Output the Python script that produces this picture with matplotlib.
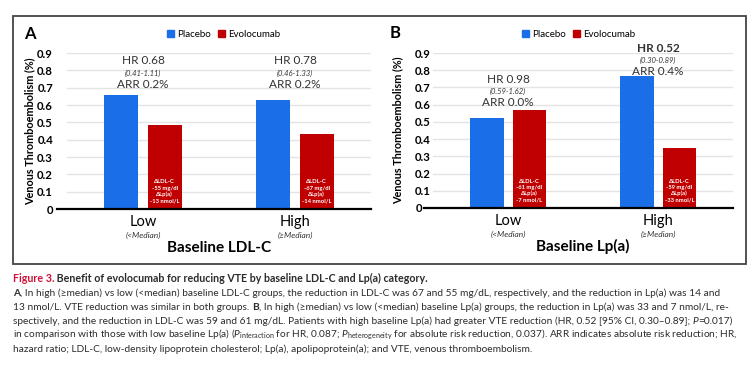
import numpy as np
import matplotlib.pyplot as plt
from matplotlib.patches import Patch, Rectangle
from matplotlib.transforms import ScaledTranslation

plt.rcParams['font.family'] = ['Lato', 'DejaVu Sans']
plt.rcParams['mathtext.fontset'] = 'custom'
plt.rcParams['mathtext.rm'] = 'Lato'
plt.rcParams['mathtext.it'] = 'Lato:italic'

# categories
groups = ['Low', 'High']
group_sub = ['(<Median)', '(\u2265Median)']

# panel A: baseline LDL-C
placebo_ldl = [0.66, 0.63]
evo_ldl = [0.485, 0.43]
hr_ldl = ['HR 0.68', 'HR 0.78']
ci_ldl = ['(0.41-1.11)', '(0.46-1.33)']
arr_ldl = ['ARR 0.2%', 'ARR 0.2%']
dldl_ldl = ['-55 mg/dl', '-67 mg/dl']
dlpa_ldl = ['-13 nmol/L', '-14 nmol/L']

# panel B: baseline Lp(a)
placebo_lpa = [0.52, 0.765]
evo_lpa = [0.57, 0.35]
hr_lpa = ['HR 0.98', 'HR 0.52']
ci_lpa = ['(0.59-1.62)', '(0.30-0.89)']
arr_lpa = ['ARR 0.0%', 'ARR 0.4%']
dldl_lpa = ['-61 mg/dl', '-59 mg/dl']
dlpa_lpa = ['-7 nmol/L', '-33 nmol/L']

BLUE = '#1a6ee8'
RED = '#c00000'
W, H = 750, 369

fig = plt.figure(figsize=(7.5, 3.69), dpi=100)


def px_axes(left, right, top, bottom):
    return fig.add_axes([left / W, 1 - bottom / H, (right - left) / W, (bottom - top) / H])


def draw_panel(ax, placebo, evo, hr, ci, arr, dldl, dlpa, arr_y, xlabel,
               zero_ext, tick_pad, zero_shift, ylab_x, leg_x, hr_bold):
    x = np.arange(len(groups))
    ax.set_xlim(-0.5, 1.5)
    ax.set_ylim(0, 0.9)
    ax.bar(x - 0.142, placebo, 0.224, color=BLUE, zorder=3)
    ax.bar(x + 0.142, evo, 0.224, color=RED, zorder=3)

    ticks = np.round(np.arange(0, 0.95, 0.1), 1)
    ax.set_yticks(ticks)
    ax.set_yticklabels(['0'] + ['%.1f' % t for t in ticks[1:]], fontweight='bold', fontsize=8.2)
    ax.tick_params(axis='y', length=0, pad=tick_pad)
    zl = ax.get_yticklabels()[0]
    zl.set_transform(zl.get_transform() + ScaledTranslation(-zero_shift / 100, 0, fig.dpi_scale_trans))
    ax.set_xticks([])
    ax.yaxis.grid(True, color='#e4e4e4', lw=1)
    ax.set_axisbelow(True)
    for s in ax.spines.values():
        s.set_visible(False)
    ax.axhline(0, xmin=-zero_ext, xmax=1, color='black', lw=1.6, clip_on=False, zorder=4)

    ax.set_ylabel('Venous Thromboembolism (%)', fontweight='bold', fontsize=7.8)
    ax.yaxis.set_label_coords(ylab_x, 0.5)

    trans = ax.get_xaxis_transform()
    for i in range(len(groups)):
        ax.text(x[i], -0.085, groups[i], transform=trans, ha='center', va='center', fontsize=10.5)
        ax.text(x[i], -0.17, group_sub[i], transform=trans, ha='center', va='center',
                fontsize=6, style='italic', color='#333333')
        wt = 'bold' if hr_bold[i] else 'normal'
        ax.text(x[i], arr_y[i] + 0.135, hr[i], ha='center', va='center', fontsize=8.5,
                color='#333333', fontweight=wt)
        ax.text(x[i], arr_y[i] + 0.065, ci[i], ha='center', va='center', fontsize=5.5,
                style='italic', color='#333333')
        ax.text(x[i], arr_y[i], arr[i], ha='center', va='center', fontsize=8.5, color='#333333')
        # text inside evolocumab bar
        bx = x[i] + 0.142
        for yy, s in zip([0.156, 0.121, 0.087, 0.046], ['\u0394LDL-C', dldl[i], '\u0394Lp(a)', dlpa[i]]):
            ax.text(bx, yy, s, ha='center', va='center', fontsize=4.2, color='white',
                    fontweight='bold', zorder=5)
    ax.text(0.5, -0.25, xlabel, transform=ax.transAxes, ha='center', va='center',
            fontsize=11, fontweight='bold')

    handles = [Patch(color=BLUE, label='Placebo'), Patch(color=RED, label='Evolocumab')]
    ax.legend(handles=handles, ncol=2, loc='center', bbox_to_anchor=(leg_x, 1.12), frameon=False,
              fontsize=7, handlelength=0.7, handleheight=0.7, columnspacing=0.8, handletextpad=0.3,
              borderpad=0)


axA = px_axes(67, 371, 53, 209)
draw_panel(axA, placebo_ldl, evo_ldl, hr_ldl, ci_ldl, arr_ldl, dldl_ldl, dlpa_ldl,
           [0.72, 0.72], 'Baseline LDL-C', 0.033, 10, 0, -0.105, 0.515, [False, False])
axB = px_axes(433, 733, 53, 208)
draw_panel(axB, placebo_lpa, evo_lpa, hr_lpa, ci_lpa, arr_lpa, dldl_lpa, dlpa_lpa,
           [0.61, 0.79], 'Baseline Lp(a)', 0.03, 1.5, 9, -0.1, 0.485, [False, True])

fig.text(30 / W, 1 - 34 / H, 'A', fontsize=12, fontweight='bold', ha='center', va='center')
fig.text(395 / W, 1 - 33 / H, 'B', fontsize=12, fontweight='bold', ha='center', va='center')

# frame around both panels
fig.add_artist(Rectangle((13 / W, 1 - 264 / H), 733 / W, 248 / H, transform=fig.transFigure,
                         fill=False, edgecolor='#444444', lw=1.3))

# caption
cap = fig.add_axes([0, 0, 1, 1], zorder=-1)
cap.axis('off')
CAPS = 7.3


def chain(x, y, parts, size=CAPS):
    prev = cap.text(x / W, 1 - y / H, parts[0][0], fontsize=size, va='bottom',
                    ha='left', color=parts[0][1], fontweight=parts[0][2], style=parts[0][3])
    for s, c, w, st in parts[1:]:
        prev = cap.annotate(s, xy=(1, 0), xycoords=prev, va='bottom', ha='left',
                            fontsize=size, color=c, fontweight=w, style=st)


TXT = '#2b2b2b'
N = 'normal'
chain(13, 284, [('Figure 3.', '#d0103a', 'bold', N),
                (' Benefit of evolocumab for reducing VTE by baseline LDL-C and Lp(a) category.', TXT, 'bold', N)],
      size=7.7)
chain(13, 298, [('A', TXT, 'bold', N),
                (', In high (\u2265median) vs low (<median) baseline LDL-C groups, the reduction in LDL-C was '
                 '67 and 55 mg/dL, respectively, and the reduction in Lp(a) was 14 and', TXT, N, N)])
chain(13, 312, [('13 nmol/L. VTE reduction was similar in both groups. ', TXT, N, N),
                ('B', TXT, 'bold', N),
                (', In high (\u2265median) vs low (<median) baseline Lp(a) groups, the reduction in Lp(a) '
                 'was 33 and 7 nmol/L, re-', TXT, N, N)])
chain(13, 326, [('spectively, and the reduction in LDL-C was 59 and 61 mg/dL. Patients with high baseline '
                 'Lp(a) had greater VTE reduction (HR, 0.52 [95% CI, 0.30\u20130.89]; ', TXT, N, N),
                ('P', TXT, N, 'italic'), ('=0.017)', TXT, N, N)])
cap.text(13 / W, 1 - 337.5 / H,
         r'in comparison with those with low baseline Lp(a) ($\mathit{P}_{\mathrm{interaction}}$ for HR, 0.087; '
         r'$\mathit{P}_{\mathrm{heterogeneity}}$ for absolute risk reduction, 0.037). ARR indicates absolute '
         r'risk reduction; HR,', fontsize=CAPS, color=TXT, va='baseline', ha='left')
chain(13, 354, [('hazard ratio; LDL-C, low-density lipoprotein cholesterol; Lp(a), apolipoprotein(a); '
                 'and VTE, venous thromboembolism.', TXT, N, N)])

fig.savefig('out.png', dpi=100)
